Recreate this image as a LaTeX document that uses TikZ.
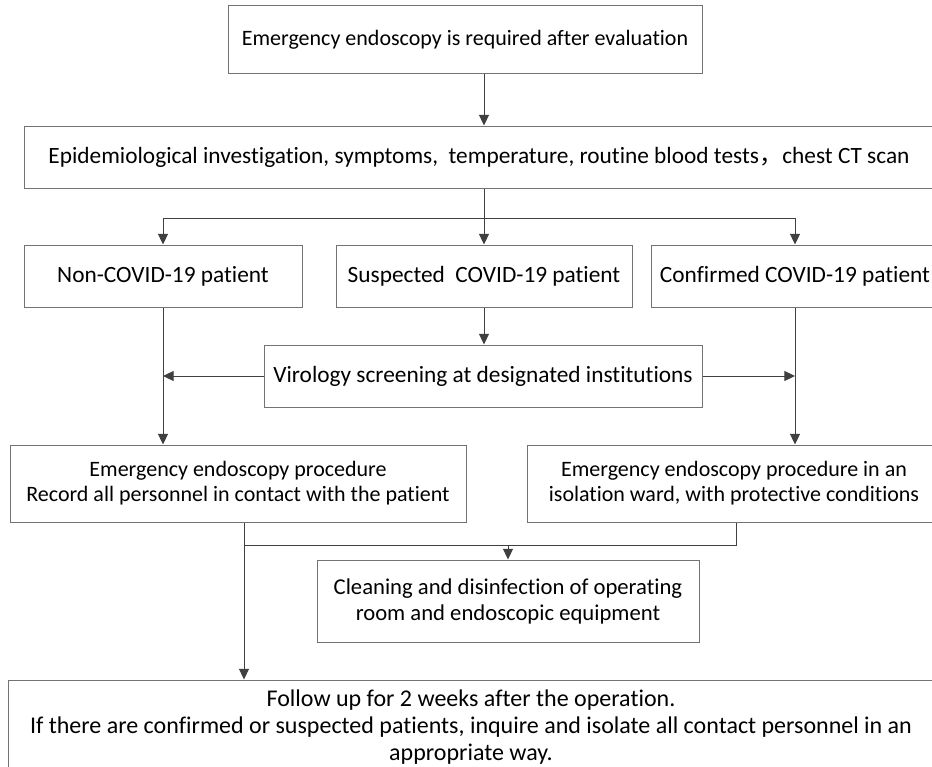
\documentclass[tikz,border=0pt]{standalone}
\usepackage{fontspec}
\setmainfont{Carlito}[Ligatures=NoCommon]
\newfontfamily\cjk{Noto Sans CJK SC}
\usetikzlibrary{arrows.meta}

\tikzset{every picture/.style={line width=0.75pt}}
\tikzset{
  flowbox/.style={draw=black!55, fill=white, align=center, inner sep=0pt,
    font=\fontsize{16.5}{18.75}\selectfont},
  bigtext/.style={font=\fontsize{17.5}{18.75}\selectfont},
  flowline/.style={draw=black!75, line width=0.75pt},
  flowarrow/.style={flowline, -{Triangle[length=8pt,width=7.5pt]}}
}

\begin{document}
\begin{tikzpicture}[x=0.75pt,y=0.75pt,yscale=-1,xscale=1]
\useasboundingbox (0,0) rectangle (932,767);
\clip (0,0) rectangle (932,767);

% Text Node
\node [flowbox, minimum width=355.5pt, minimum height=51pt] (eval) at (465,40) {Emergency endoscopy is required after evaluation};
% Text Node
\node [flowbox, bigtext, minimum width=682.5pt, minimum height=46.5pt] (invest) at (479,157) {Epidemiological investigation, symptoms,\ \ temperature, routine blood tests{\cjk ，}chest CT scan};
% Text Node
\node [flowbox, bigtext, minimum width=208.5pt, minimum height=46.5pt] (noncovid) at (163,276) {Non-COVID-19 patient};
% Text Node
\node [flowbox, bigtext, minimum width=222pt, minimum height=46.5pt] (suspect) at (484,276) {Suspected\ \ COVID-19 patient};
% Text Node
\node [flowbox, bigtext, minimum width=216pt, minimum height=46.5pt] (confirm) at (795,276) {Confirmed COVID-19 patient};
% Text Node
\node [flowbox, bigtext, minimum width=328.5pt, minimum height=46.5pt] (virology) at (483,376) {Virology screening at designated institutions};
% Text Node
\node [flowbox, minimum width=342pt, minimum height=57.75pt] (procL) at (238,483.5) {Emergency endoscopy procedure\\Record all personnel in contact with the patient};
% Text Node
\node [flowbox, minimum width=310.5pt, minimum height=57.75pt] (procR) at (734,483.5) {Emergency endoscopy procedure in an\\isolation ward, with protective conditions};
% Text Node
\node [flowbox, minimum width=286.5pt, minimum height=61.5pt, font=\fontsize{17}{19.5}\selectfont] (clean) at (508,601) {Cleaning and disinfection of operating\\room and endoscopic equipment};
% Text Node
\node [flowbox, minimum width=693.75pt, minimum height=70.5pt, font=\fontsize{18}{20.25}\selectfont] (follow) at (471,727) {Follow up for 2 weeks after the operation.\\If there are confirmed or suspected patients, inquire and isolate all contact personnel in an\\appropriate way.};

\coordinate (split) at (484,218);
\coordinate (mergeL) at (244,545);
\coordinate (mergeR) at (736,545);

%Straight Lines
\draw [flowarrow] (eval.south -| suspect.north) -- (invest.north -| suspect.north);
\draw [flowline] (invest.south -| suspect.north) -- (split);
\draw [flowarrow] (split) -| (noncovid.north);
\draw [flowarrow] (split) -- (suspect.north);
\draw [flowarrow] (split) -| (confirm.north);
%Straight Lines
\draw [flowarrow] (suspect.south) -- (virology.north -| suspect.south);
\draw [flowarrow] (virology.west) -- (virology.west -| noncovid.south);
\draw [flowarrow] (virology.east) -- (virology.east -| confirm.south);
\draw [flowarrow] (noncovid.south) -- (procL.north -| noncovid.south);
\draw [flowarrow] (confirm.south) -- (procR.north -| confirm.south);
%Straight Lines
\draw [flowline] (procL.south -| mergeL) -- (mergeL) -- (mergeR) -- (procR.south -| mergeR);
\draw [flowarrow] (mergeL -| clean.north) -- (clean.north);
\draw [flowarrow] (mergeL) -- (follow.north -| mergeL);

\end{tikzpicture}
\end{document}
